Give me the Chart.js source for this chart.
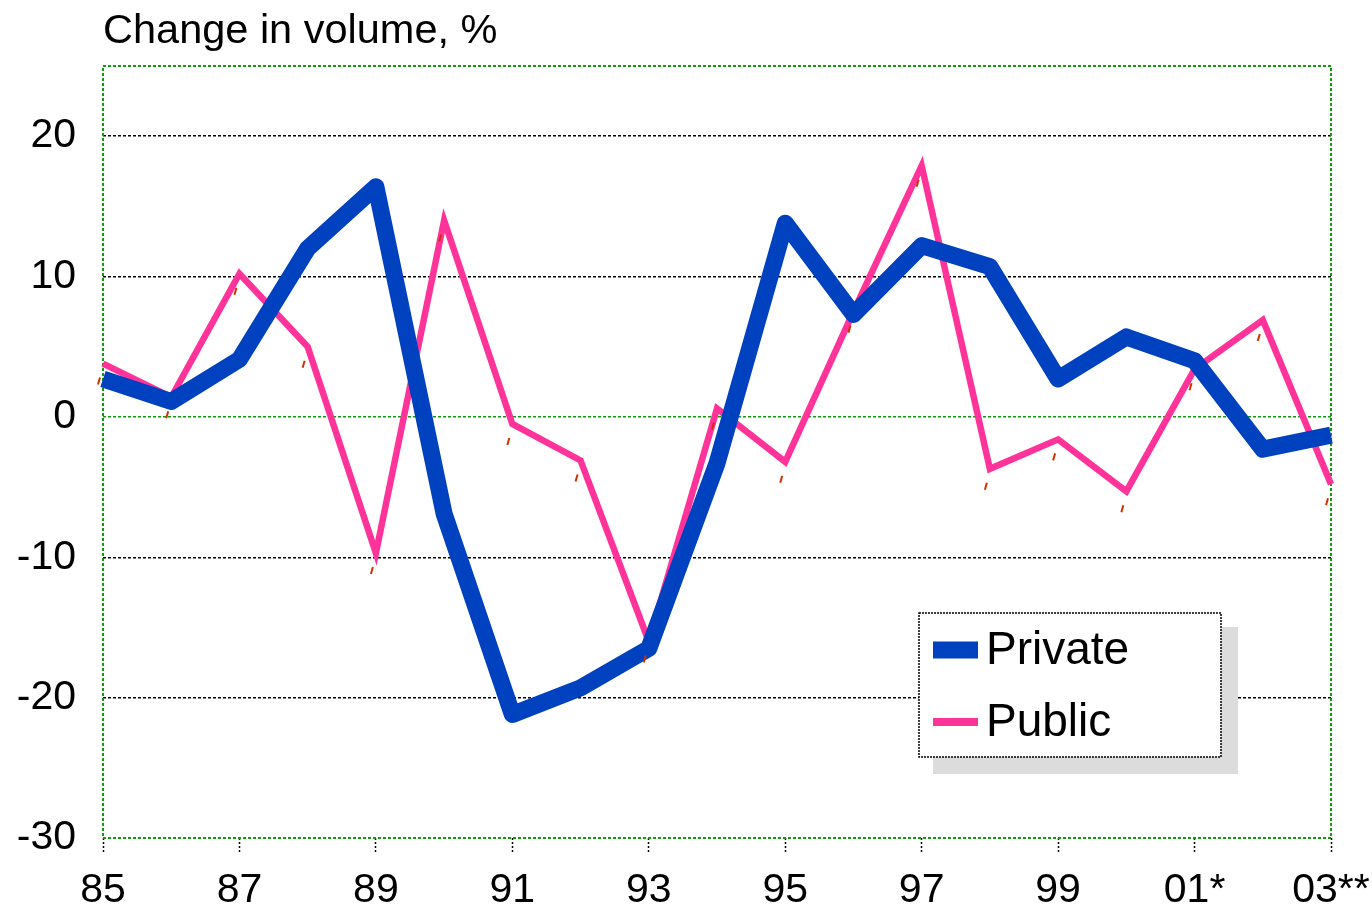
<!DOCTYPE html>
<html>
<head>
<meta charset="utf-8">
<script src="https://cdn.jsdelivr.net/npm/chart.js@4/dist/chart.umd.min.js"></script>
<style>
  html, body { margin: 0; padding: 0; background: #fff; }
  #chart { display: block; }
</style>
</head>
<body>
<canvas id="chart" width="1372" height="911"></canvas>
<script>
// Years on the x axis (only every other one gets a label)
const years = ['85', '86', '87', '88', '89', '90', '91', '92', '93', '94',
               '95', '96', '97', '98', '99', '00', '01*', '02', '03**'];

// Change in volume, %
const privateValues = [2.7, 1.1, 4.1, 12.0, 16.4, -6.9, -21.2, -19.3, -16.5, -3.3,
                       13.8, 7.3, 12.2, 10.7, 2.7, 5.7, 4.0, -2.3, -1.3];
const publicValues = [3.8, 1.4, 10.2, 5.0, -9.7, 14.0, -0.5, -3.1, -16.0, 0.6,
                      -3.2, 7.5, 17.9, -3.7, -1.6, -5.3, 3.4, 6.9, -4.8];

const yTicks = [-30, -20, -10, 0, 10, 20];

const FONT = '"Liberation Sans", Arial, sans-serif';

// Frame around the plot area, title and the boxed legend
const decorPlugin = {
    id: 'decor',
    beforeDatasetsDraw(chart) {
        const ctx = chart.ctx;
        const a = chart.chartArea;
        ctx.save();
        ctx.strokeStyle = '#119911';
        ctx.lineWidth = 2;
        ctx.setLineDash([3, 2]);
        ctx.strokeRect(a.left, a.top, a.right - a.left, a.bottom - a.top);
        ctx.restore();
    },
    afterDatasetsDraw(chart) {
        const ctx = chart.ctx;
        const a = chart.chartArea;

        // little red marks under the public points
        const meta = chart.getDatasetMeta(1);
        ctx.save();
        ctx.strokeStyle = '#cc3300';
        ctx.lineWidth = 2;
        meta.data.forEach(pt => {
            ctx.beginPath();
            ctx.moveTo(pt.x - 5, pt.y + 21);
            ctx.lineTo(pt.x - 3, pt.y + 14);
            ctx.stroke();
        });
        ctx.restore();

        // title
        ctx.save();
        ctx.fillStyle = '#000';
        ctx.font = '41.5px ' + FONT;
        ctx.textBaseline = 'alphabetic';
        ctx.textAlign = 'left';
        ctx.fillText('Change in volume, %', a.left, 43);
        ctx.restore();

        // legend box with shadow
        const bx = 919, by = 613, bw = 302, bh = 144;
        ctx.save();
        ctx.fillStyle = '#dcdcdc';
        ctx.fillRect(bx + 14, by + 14, bw + 3, bh + 3);
        ctx.fillStyle = '#fff';
        ctx.fillRect(bx, by, bw, bh);
        ctx.strokeStyle = '#000';
        ctx.lineWidth = 1.5;
        ctx.setLineDash([2, 1]);
        ctx.strokeRect(bx, by, bw, bh);
        ctx.setLineDash([]);

        const rows = [{ y: 650, w: 17 }, { y: 722, w: 8 }];
        chart.data.datasets.forEach((ds, i) => {
            const r = rows[i];
            ctx.fillStyle = ds.borderColor;
            ctx.fillRect(933, r.y - r.w / 2, 45, r.w);
            ctx.fillStyle = '#000';
            ctx.font = '46px ' + FONT;
            ctx.textBaseline = 'middle';
            ctx.fillText(ds.label, 986, r.y + 1);
        });
        ctx.restore();
    }
};

const ctx = document.getElementById('chart').getContext('2d');

new Chart(ctx, {
    type: 'line',
    data: {
        labels: years,
        datasets: [
            {
                label: 'Private',
                data: privateValues,
                borderColor: '#0041bf',
                backgroundColor: '#0041bf',
                borderWidth: 17,
                borderJoinStyle: 'round',
                borderCapStyle: 'butt',
                pointRadius: 0,
                tension: 0
            },
            {
                label: 'Public',
                data: publicValues,
                borderColor: '#ff3399',
                backgroundColor: '#ff3399',
                borderWidth: 6.5,
                borderJoinStyle: 'miter',
                pointRadius: 0,
                tension: 0
            }
        ]
    },
    options: {
        responsive: false,
        animation: false,
        layout: {
            padding: { top: 66, right: 41, left: 0, bottom: 0 }
        },
        plugins: {
            legend: { display: false },
            title: { display: false },
            tooltip: { enabled: false }
        },
        scales: {
            x: {
                offset: false,
                border: { display: false },
                grid: {
                    drawOnChartArea: false,
                    drawTicks: true,
                    tickLength: 16,
                    tickWidth: 1.5,
                    tickBorderDash: [2, 2],
                    tickColor: c => (c.index % 2 === 0 ? '#000' : 'rgba(0,0,0,0)')
                },
                ticks: {
                    autoSkip: false,
                    maxRotation: 0,
                    padding: 12,
                    color: '#000',
                    font: { family: FONT, size: 41 },
                    callback: (val, i) => (i % 2 === 0 ? years[i] : '')
                },
                afterFit: scale => {
                    scale.height = 73;
                    // let the last label run into the page margin
                    scale.paddingLeft = 0;
                    scale.paddingRight = 0;
                }
            },
            y: {
                min: yTicks[0],
                max: 25,
                border: { display: false, dash: [3, 2] },
                afterBuildTicks: scale => {
                    scale.ticks = yTicks.map(v => ({ value: v }));
                },
                grid: {
                    drawTicks: false,
                    lineWidth: 1.5,
                    color: c => (c.tick && c.tick.value === 0 ? '#119911' : '#000')
                },
                ticks: {
                    padding: 27,
                    color: '#000',
                    font: { family: FONT, size: 41 }
                },
                afterFit: scale => { scale.width = 103; }
            }
        }
    },
    plugins: [decorPlugin]
});
</script>
</body>
</html>
